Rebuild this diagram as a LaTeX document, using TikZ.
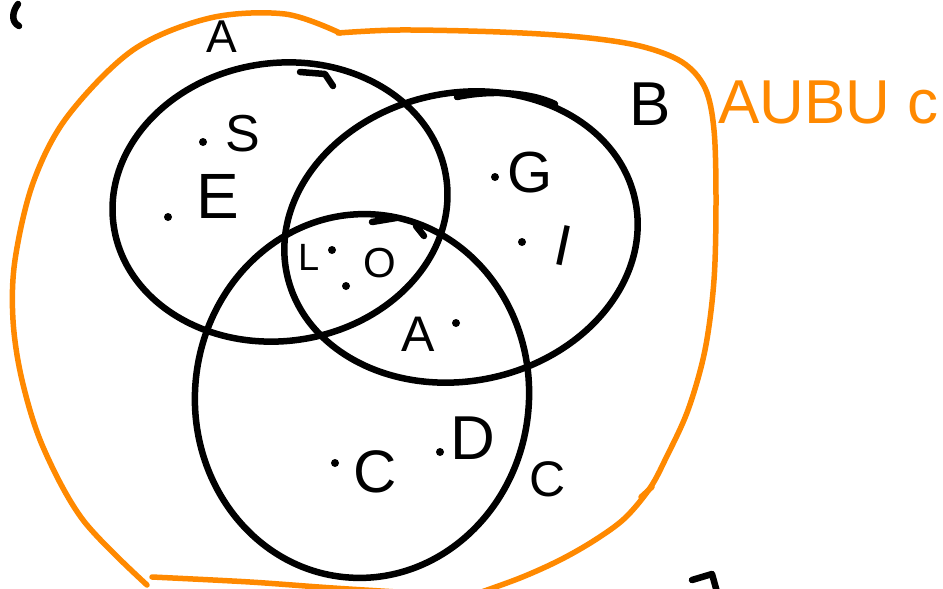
\documentclass[tikz,border=0pt]{standalone}
\usepackage{fontspec}
\setmainfont{Liberation Sans}
\definecolor{hlorange}{RGB}{255,137,0}
\begin{document}
\begin{tikzpicture}[x=1pt,y=-1pt,
  ink/.style={line width=6.5pt, line cap=round, line join=round, black},
  oink/.style={line width=5.5pt, line cap=round, line join=round, hlorange},
  lbl/.style={inner sep=0pt, font=\fontsize{#1}{#1}\selectfont},
  pt/.style={circle, fill=black, inner sep=0pt, minimum size=8pt}]
\useasboundingbox (0,0) rectangle (943,589);
% sets
\draw[ink, rotate around={8:(280,202)}] (280,202) ellipse [x radius=168pt, y radius=139pt];
\draw[ink, rotate around={12:(461,237)}] (461,237) ellipse [x radius=178pt, y radius=144pt];
\draw[ink, rotate around={-5:(362,396)}] (362,396) ellipse [x radius=167pt, y radius=182pt];
% small pen marks on the sets
\draw[ink] (300,72) -- (325,74) -- (333,86);
\draw[ink] (457,97) .. controls (490,90) and (530,92) .. (555,104);
\draw[ink] (372,222) -- (396,218);
\draw[ink] (416,226) -- (424,236);
% universe outline
\draw[oink] plot[smooth, tension=0.55] coordinates {(147,585) (83,520) (43,447) (22,380) (13,320) (15,260) (33,183) (67,117) (133,50) (210,18) (285,14) (340,33)};
\draw[oink] plot[smooth, tension=0.55] coordinates {(338,33) (400,30) (500,32) (580,37) (640,46) (682,62) (705,88) (714,130) (716,200) (714,280) (705,350) (688,410) (666,458) (650,488) (625,518) (595,540) (560,560) (520,578) (470,596)};
\draw[oink] (641,497) -- (652,487);
\draw[oink] plot[smooth] coordinates {(152,577) (250,582) (333,588) (430,594)};
\node[lbl=62, text=hlorange, anchor=west] (union) at (718,102) {AUBU c};
% stray marks
\draw[ink] (18,4) .. controls (12,12) and (11,22) .. (19,26);
\draw[ink] (692,580) -- (712,574) -- (717,592);
% set labels
\node[lbl=46] (labA) at (222,37) {A};
\node[lbl=62] (labB) at (650,104) {B};
\node[lbl=50] (labC) at (548,479) {C};
% elements
\node[lbl=52] (eS) at (243,134) {S};
\node[pt] (dS) at (203,142) {};
\node[lbl=64] (eE) at (218,196) {E};
\node[pt] (dE) at (168,217) {};
\node[lbl=58] (eG) at (530,173) {G};
\node[pt] (dG) at (495,177) {};
\node[lbl=58, rotate=-12] (eI) at (564,246) {I};
\node[pt] (dI) at (522,242) {};
\node[lbl=38] (eL) at (309,257) {L};
\node[pt] (dL) at (332,250) {};
\node[lbl=42] (eO) at (380,263) {O};
\node[pt] (dO) at (346,286) {};
\node[lbl=50] (eA) at (418,334) {A};
\node[pt] (dA) at (456,323) {};
\node[lbl=60] (eC) at (375,472) {C};
\node[pt] (dC) at (335,463) {};
\node[lbl=62] (eD) at (473,438) {D};
\node[pt] (dD) at (440,452) {};
\end{tikzpicture}
\end{document}
